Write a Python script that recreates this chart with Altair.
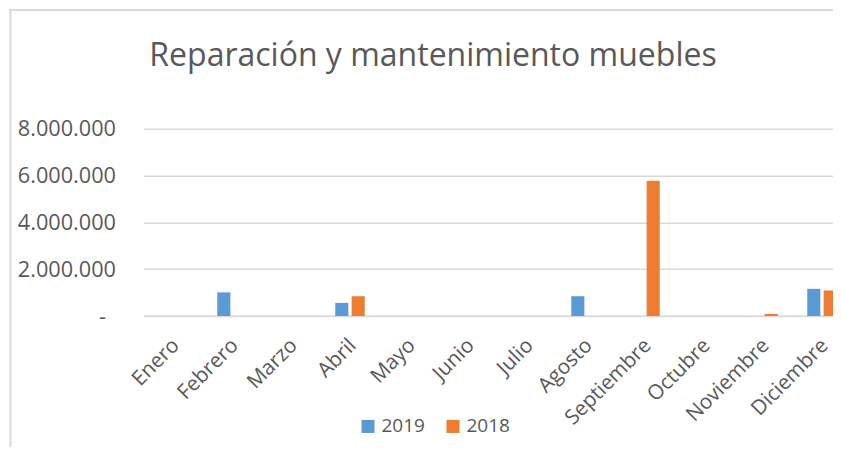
import altair as alt
import pandas as pd

months = ["Enero", "Febrero", "Marzo", "Abril", "Mayo", "Junio", "Julio",
          "Agosto", "Septiembre", "Octubre", "Noviembre", "Diciembre"]
v2019 = [0, 1010000, 0, 560000, 0, 0, 0, 845000, 0, 0, 0, 1160000]
v2018 = [0, 0, 0, 845000, 0, 0, 0, 0, 5775000, 0, 90000, 1090000]
series = ["2019", "2018"]
colors = ["#5B9BD5", "#ED7D31"]
y_ticks = [0, 2000000, 4000000, 6000000, 8000000]
title_text = ["Reparación y mantenimiento muebles"]

rows = []
for m, a, b in zip(months, v2019, v2018):
    rows.append({"mes": m, "serie": "2019", "valor": a})
    rows.append({"mes": m, "serie": "2018", "valor": b})
df = pd.DataFrame(rows)

FONT = "Open Sans"
GRAY = "#595959"
one = pd.DataFrame({"a": [0]})

border_left = alt.Chart(one).mark_rect(
    fill="#d9d9d9", strokeWidth=0, clip=False
).encode(x=alt.value(-134), x2=alt.value(-132),
         y=alt.value(-119.7), y2=alt.value(318))

border_top = alt.Chart(one).mark_rect(
    fill="#d9d9d9", strokeWidth=0, clip=False
).encode(x=alt.value(-134), x2=alt.value(689.5),
         y=alt.value(-119.7), y2=alt.value(-117.7))

title = alt.Chart(pd.DataFrame({"t": title_text})).mark_text(
    font=FONT, fontSize=32, color=GRAY, align="center", baseline="alphabetic",
    clip=False
).encode(text="t:N", x=alt.value(289.5), y=alt.value(-62.7))

bars = alt.Chart(df).mark_bar().encode(
    x=alt.X("mes:N", sort=months,
            scale=alt.Scale(paddingInner=0.5, paddingOuter=0.25, range=[0, 708]),
            axis=alt.Axis(title=None, labelAngle=-45, labelAlign="right",
                          labelBaseline="top", labelFont=FONT, labelFontSize=20.7,
                          labelColor=GRAY, ticks=False, domain=True,
                          domainColor="#d9d9d9", domainWidth=1.5,
                          labelPadding=19, labelOffset=-4)),
    xOffset=alt.XOffset("serie:N", sort=series,
                        scale=alt.Scale(paddingInner=0.2, paddingOuter=0)),
    y=alt.Y("valor:Q", scale=alt.Scale(domain=[0, 8000000], nice=False),
            axis=alt.Axis(title=None, values=y_ticks, grid=True,
                          gridColor="#d9d9d9", gridWidth=1.5, domain=False,
                          ticks=False, labelFont=FONT, labelFontSize=21.7,
                          labelColor=GRAY,
                          labelPadding={"condition": {"test": "datum.value === 0", "value": 38},
                                        "value": 28},
                          labelExpr="datum.value === 0 ? '-' : replace(format(datum.value, ','), /,/g, '.')")),
    color=alt.Color("serie:N", sort=series,
                    scale=alt.Scale(domain=series, range=colors),
                    legend=alt.Legend(title=None, orient="none", direction="horizontal",
                                      legendX=215, legendY=288, symbolType="square",
                                      symbolSize=170, symbolStrokeWidth=0,
                                      labelFont=FONT, labelFontSize=19,
                                      labelColor=GRAY, columnPadding=18,
                                      symbolOpacity=1)),
)

chart = alt.layer(border_left, border_top, title, bars).properties(
    width=689.5, height=187.3,
    autosize=alt.AutoSizeParams(type="none"),
    padding={"left": 135.5, "top": 120.7, "right": 0, "bottom": 131},
).configure_view(stroke=None)

chart.save("out.html", embed_options={"renderer": "svg", "actions": False})
